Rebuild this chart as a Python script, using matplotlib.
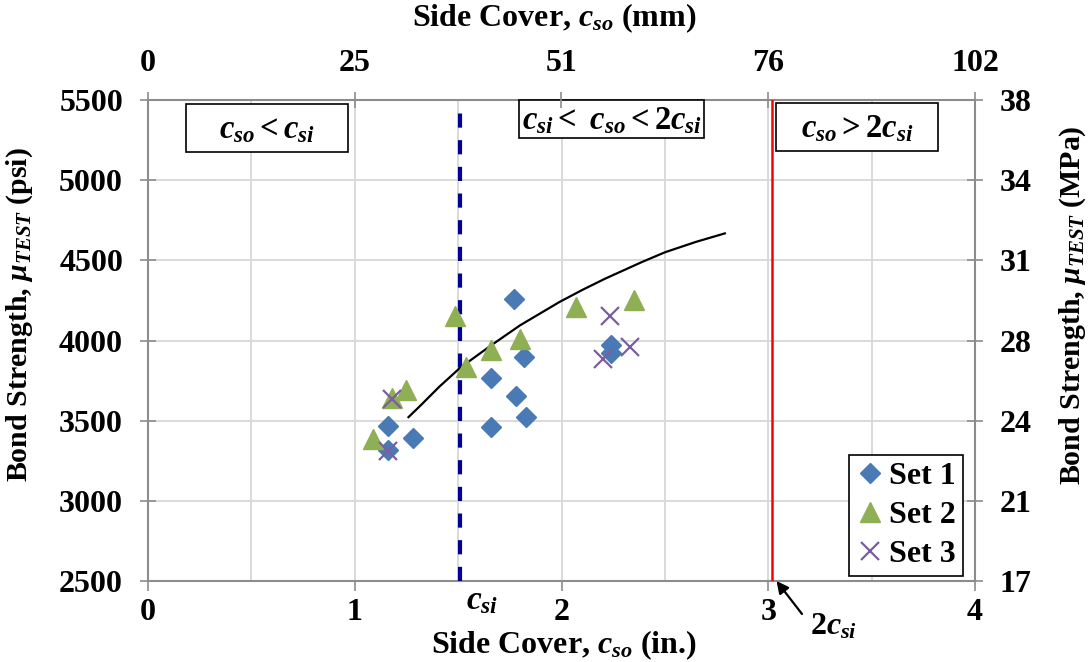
import matplotlib
matplotlib.use("Agg")
import matplotlib.pyplot as plt
from matplotlib.patches import Rectangle

# ---------------- data ----------------
set1_x = [1.16, 1.16, 1.28, 1.66, 1.66, 1.78, 1.77, 1.83, 1.82, 2.24, 2.24]
set1_y = [3317, 3467, 3392, 3461, 3766, 3654, 4259, 3523, 3897, 3972, 3922]

set2_x = [1.09, 1.18, 1.25, 1.485, 1.54, 1.66, 1.80, 2.07, 2.35]
set2_y = [3385, 3641, 3691, 4150, 3835, 3940, 4010, 4212, 4250]

set3_x = [1.18, 1.16, 2.235, 2.20, 2.33]
set3_y = [3635, 3311, 4155, 3885, 3960]

trend_x = [1.26, 1.32, 1.41, 1.51, 1.66, 1.80, 1.99, 2.10, 2.21, 2.39, 2.50, 2.65, 2.79]
trend_y = [3522, 3597, 3713, 3830, 3970, 4095, 4240, 4315, 4385, 4490, 4550, 4615, 4668]

c_si = 1.51
two_c_si = 3.02

x_ticks_in = [0, 1, 2, 3, 4]
x_ticks_mm = ["0", "25", "51", "76", "102"]
y_ticks_psi = [2500, 3000, 3500, 4000, 4500, 5000, 5500]
y_ticks_mpa = ["17", "21", "24", "28", "31", "34", "38"]

series_labels = ["Set 1", "Set 2", "Set 3"]

# ---------------- style ----------------
plt.rcParams["font.family"] = ["Liberation Serif", "DejaVu Serif"]
plt.rcParams["font.weight"] = "bold"
plt.rcParams["mathtext.fontset"] = "custom"
plt.rcParams["mathtext.rm"] = "Liberation Serif:bold"
plt.rcParams["mathtext.it"] = "Liberation Serif:bold:italic"
plt.rcParams["mathtext.bf"] = "Liberation Serif:bold"

GRID = "#d9d9d9"
SPINE = "#8c8c8c"
TICKFS = 23
XLABELFS = 23
YLABELFS = 21.5

fig = plt.figure(figsize=(10.89, 6.62), dpi=100)
ax = fig.add_axes([148 / 1089, 1 - 581 / 662, 827 / 1089, 481 / 662])

ax.set_xlim(0, 4)
ax.set_ylim(2500, 5500)
ax.set_xticks(x_ticks_in)
ax.set_xticks([0.5, 1.5, 2.5, 3.5], minor=True)
ax.set_yticks(y_ticks_psi)
ax.grid(True, which="both", axis="x", color=GRID, lw=1.4, zorder=0)
ax.grid(True, which="major", axis="y", color=GRID, lw=1.4, zorder=0)
ax.set_axisbelow(True)

for s in ax.spines.values():
    s.set_color(SPINE)
    s.set_linewidth(1.5)

ax.tick_params(axis="x", which="major", direction="out", length=7, width=1.2,
               color=SPINE, labelsize=TICKFS, pad=5)
ax.tick_params(axis="x", which="minor", length=0)
ax.tick_params(axis="y", which="major", direction="inout", length=12, width=1.2,
               color=SPINE, labelsize=TICKFS, pad=12)
for lab in ax.get_xticklabels() + ax.get_yticklabels():
    lab.set_fontweight("bold")

# vertical reference lines
ax.axvline(c_si, ymax=0.975, color="#000099", lw=3.0, ls=(0, (3.4, 3.0)), zorder=3)
ax.axvline(two_c_si, color="#ff0000", lw=1.8, zorder=3)

# trend line
ax.plot(trend_x, trend_y, color="black", lw=1.6, zorder=4)

# data
ax.plot(set1_x, set1_y, ls="none", marker="D", ms=10.5, color="#4a7ab5",
        mec="#4a7ab5", label=series_labels[0], zorder=5)
ax.plot(set2_x, set2_y, ls="none", marker="^", ms=14, color="#8faf55",
        mec="#8faf55", label=series_labels[1], zorder=5)
ax.plot(set3_x, set3_y, ls="none", marker="x", ms=13, mew=1.6,
        color="#7a5e9e", label=series_labels[2], zorder=5)

leg = ax.legend(loc="lower right", bbox_to_anchor=(0.9855, 0.0104),
                borderaxespad=0, frameon=True, fancybox=False, framealpha=1,
                prop={"family": "Liberation Serif", "weight": "bold", "size": 23},
                labelspacing=0.3, handletextpad=0.15, handlelength=0.9,
                borderpad=0.22)
leg.get_frame().set_edgecolor("black")
leg.get_frame().set_linewidth(1.2)
leg.set_zorder(6)

# top axis (mm)
axt = ax.twiny()
axt.set_xlim(ax.get_xlim())
axt.set_xticks(x_ticks_in)
axt.set_xticklabels(x_ticks_mm, fontsize=TICKFS, fontweight="bold")
axt.tick_params(axis="x", direction="inout", length=12, width=1.2,
                color=SPINE, pad=10)
for s in axt.spines.values():
    s.set_visible(False)

# right axis (MPa)
axr = ax.twinx()
axr.set_ylim(ax.get_ylim())
axr.set_yticks(y_ticks_psi)
axr.set_yticklabels(y_ticks_mpa, fontsize=TICKFS, fontweight="bold")
axr.tick_params(axis="y", direction="inout", length=12, width=1.2,
                color=SPINE, pad=12)
for s in axr.spines.values():
    s.set_visible(False)

# region boxes
def region_box(x0, y0, x1, y1, text):
    ax.add_patch(Rectangle((x0, y0), x1 - x0, y1 - y0, transform=ax.transAxes,
                           facecolor="white", edgecolor="black", lw=1.2,
                           zorder=6, clip_on=False))
    ax.text((x0 + x1) / 2, (y0 + y1) / 2 - 0.004, text, transform=ax.transAxes,
            ha="center", va="center", fontsize=23.5, zorder=7)

region_box(0.046, 0.892, 0.242, 0.992, r"$c_{so} < c_{si}$")
region_box(0.4486, 0.921, 0.6723, 1.0, r"$c_{si} <\ c_{so} < 2c_{si}$")
region_box(0.7594, 0.894, 0.9553, 0.994, r"$c_{so} > 2c_{si}$")

# annotations below axis
fig.text(482 / 1089, 1 - 601 / 662, r"$c_{si}$", ha="center", va="center",
         fontsize=24)
ax.annotate("", xy=(two_c_si + 0.02, 2500), xycoords="data",
            xytext=(802 / 1089, 1 - 614 / 662), textcoords="figure fraction",
            arrowprops=dict(arrowstyle="-|>", color="black", lw=1.6,
                            mutation_scale=18, shrinkA=0, shrinkB=0),
            annotation_clip=False)
fig.text(834 / 1089, 1 - 627 / 662, r"$2c_{si}$", ha="center", va="center",
         fontsize=23)

# axis titles
fig.text(564 / 1089, 1 - 645 / 662,
         r"Side Cover, $c_{so}$ (in.)", ha="center", va="center",
         fontsize=XLABELFS, fontweight="bold")
fig.text(554 / 1089, 1 - 18 / 662,
         r"Side Cover, $c_{so}$ (mm)", ha="center", va="center",
         fontsize=XLABELFS, fontweight="bold")
fig.text(20 / 1089, 1 - 315 / 662,
         r"Bond Strength, $\mu_{TEST}$ (psi)", ha="center", va="center",
         rotation=90, fontsize=YLABELFS, fontweight="bold")
fig.text(1073 / 1089, 1 - 305 / 662,
         r"Bond Strength, $\mu_{TEST}$ (MPa)", ha="center", va="center",
         rotation=90, fontsize=YLABELFS, fontweight="bold")

fig.savefig("out.png", dpi=100)
